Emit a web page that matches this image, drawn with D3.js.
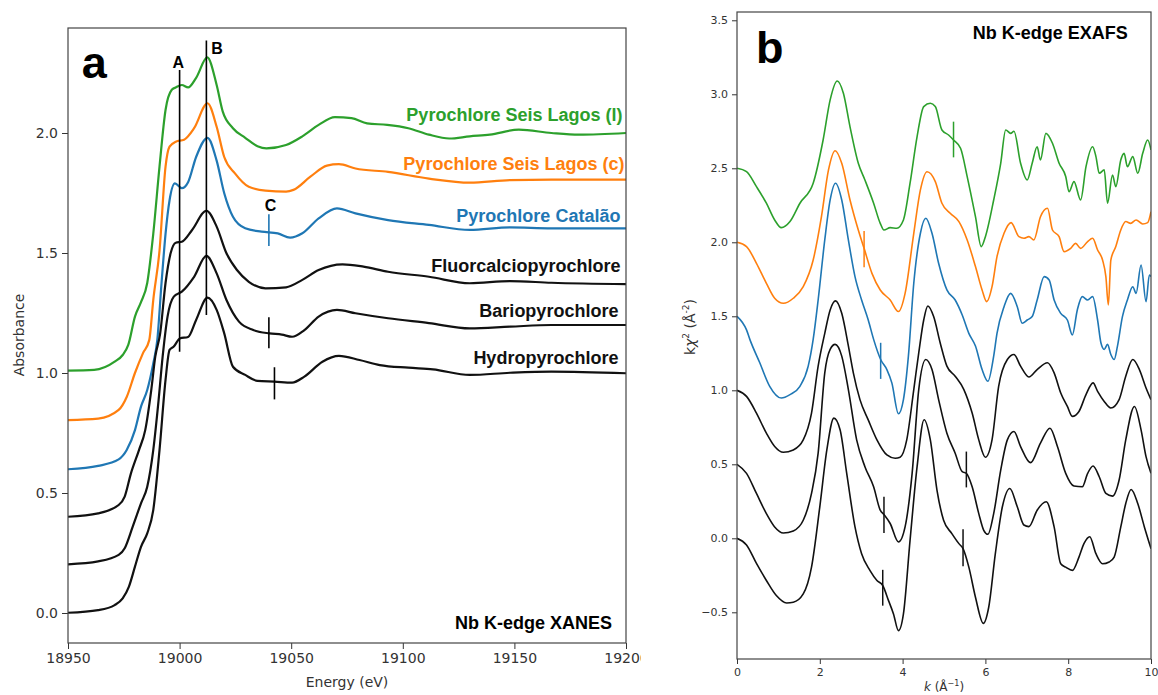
<!DOCTYPE html>
<html>
<head>
<meta charset="utf-8">
<script src="https://cdn.jsdelivr.net/npm/d3@7"></script>
<style>
  body { margin: 0; background: #fff; }
  svg { display: block; }
  .tick text { fill: #333; font-family: "DejaVu Sans", sans-serif; }
  .tick line { stroke: #333; }
  .lbl { font-family: "Liberation Sans", Arial, sans-serif; font-weight: bold; }
  .axlbl { font-family: "DejaVu Sans", sans-serif; fill: #333; }
</style>
</head>
<body>
<svg id="chart" width="1158" height="695"></svg>
<script>
// ---- XANES (panel a): [energy eV, absorbance] ----
const xanesSeisL = [[18950,1.01],[18961.7,1.013],[18970.9,1.047],[18974.5,1.075],[18977,1.117],[18980,1.235],[18982.7,1.295],[18985.5,1.375],[18988.2,1.58],[18991,1.86],[18993.7,2.096],[18996.5,2.18],[18998.3,2.19],[19001,2.2],[19003.8,2.19],[19007.4,2.23],[19012.4,2.315],[19016.6,2.2],[19019.3,2.09],[19023.9,2.02],[19029.4,1.98],[19034.9,1.945],[19038.9,1.936],[19047.7,1.95],[19055,1.986],[19062.3,2.034],[19069.6,2.066],[19077,2.062],[19084,2.04],[19093,2.034],[19102.5,2.02],[19111.7,1.993],[19120.8,1.977],[19130,1.986],[19139,1.993],[19152,2.014],[19166.6,2.0],[19179,1.993],[19200,2.0]];
const xanesSeisC = [[18950,0.804],[18963.5,0.81],[18972.7,0.846],[18976.3,0.9],[18980,1.0],[18983.6,1.083],[18986.4,1.137],[18988.2,1.304],[18991,1.51],[18993.7,1.86],[18995.5,1.943],[18998.3,1.964],[19002,1.972],[19006.5,2.02],[19012.5,2.124],[19016.6,2.026],[19020,1.9],[19024.8,1.832],[19031,1.776],[19038.5,1.76],[19047.7,1.756],[19051,1.763],[19058.6,1.818],[19066,1.864],[19071.4,1.87],[19078.8,1.852],[19093.4,1.838],[19111.7,1.81],[19130,1.793],[19148,1.804],[19166.6,1.806],[19200,1.806]];
const xanesCatalao = [[18950,0.599],[18963.5,0.613],[18972.7,0.64],[18976.3,0.679],[18980,0.762],[18982.7,0.86],[18985.5,0.929],[18988.2,1.04],[18990,1.137],[18991.9,1.374],[18993.7,1.58],[18995.5,1.72],[18997.9,1.79],[19001,1.77],[19003.8,1.795],[19007.4,1.9],[19012.5,1.98],[19016.6,1.885],[19020,1.749],[19023.9,1.651],[19029.4,1.603],[19036.7,1.589],[19044,1.582],[19049.5,1.564],[19055,1.582],[19062.3,1.644],[19070.5,1.686],[19078.8,1.665],[19093.4,1.637],[19111.7,1.617],[19130,1.596],[19148,1.607],[19166.6,1.603],[19200,1.603]];
const xanesFluor = [[18950,0.401],[18963.5,0.415],[18972.7,0.45],[18975.4,0.485],[18978.2,0.582],[18981.8,0.679],[18984.6,0.762],[18987.3,0.929],[18989.1,1.068],[18991.3,1.165],[18993.7,1.375],[18996,1.5],[18998.3,1.543],[19001,1.547],[19005.6,1.596],[19012,1.676],[19016.6,1.61],[19021,1.499],[19025.7,1.429],[19031,1.38],[19038.5,1.353],[19047.7,1.357],[19055,1.388],[19062.3,1.429],[19073,1.453],[19082.4,1.443],[19093.4,1.422],[19111.7,1.401],[19130,1.374],[19148,1.383],[19166.6,1.376],[19200,1.37]];
const xanesBario = [[18950,0.203],[18963.5,0.215],[18972.7,0.242],[18975.4,0.27],[18979,0.36],[18982.7,0.457],[18985.5,0.526],[18988.2,0.679],[18990.6,0.888],[18992.4,1.068],[18994.6,1.235],[18997.4,1.318],[19001,1.339],[19006.5,1.401],[19012,1.488],[19016.6,1.415],[19021,1.304],[19026.6,1.214],[19033,1.179],[19040.3,1.165],[19045.8,1.16],[19050.4,1.151],[19055.9,1.179],[19062.3,1.235],[19070.5,1.263],[19078.8,1.249],[19093.4,1.228],[19111.7,1.208],[19130,1.186],[19148,1.193],[19166.6,1.2],[19200,1.2]];
const xanesHydro = [[18950,0.001],[18963.5,0.012],[18970.9,0.033],[18974.5,0.061],[18977.3,0.11],[18980,0.193],[18982.7,0.276],[18985.5,0.332],[18988.2,0.429],[18991,0.679],[18993.7,0.971],[18995.5,1.096],[18997.4,1.11],[19000.1,1.144],[19003.8,1.15],[19007.4,1.221],[19012.5,1.314],[19016.6,1.263],[19020,1.165],[19023.9,1.026],[19029.4,0.992],[19034.9,0.967],[19042.5,0.964],[19050.4,0.96],[19055.9,0.985],[19064,1.047],[19071.4,1.071],[19080.6,1.054],[19089.7,1.033],[19102.5,1.022],[19113.5,1.015],[19130,0.992],[19148,1.001],[19166.6,1.006],[19200,0.999]];

const xanesNames = ['Pyrochlore Seis Lagos (l)', 'Pyrochlore Seis Lagos (c)', 'Pyrochlore Catalão',
                    'Fluorcalciopyrochlore', 'Bariopyrochlore', 'Hydropyrochlore'];
const xanesLabelY = [2.05, 1.846, 1.63, 1.422, 1.235, 1.0375];
const xanesXTicks = [18950, 19000, 19050, 19100, 19150, 19200];
const xanesYTicks = [0, 0.5, 1.0, 1.5, 2.0];

// vertical feature markers: [energy, y0, y1]
const xanesFeatureLines = [[19000, 1.089, 2.262], [19012, 1.242, 2.385]];
const xanesCMark = [19040, 1.529, 1.661];
const xanesBlackMarks = [[19040, 1.103, 1.232], [19042.5, 0.89, 1.024]];

// ---- EXAFS (panel b): [k, k chi^2] ----
const exafsSeisL = [[0,2.5],[0.23,2.477],[0.47,2.376],[0.71,2.264],[0.91,2.151],[1.07,2.099],[1.28,2.14],[1.52,2.264],[1.84,2.399],[2.08,2.691],[2.25,2.962],[2.42,3.09],[2.57,3.007],[2.73,2.78],[2.93,2.534],[3.09,2.421],[3.3,2.264],[3.46,2.128],[3.55,2.083],[3.7,2.099],[3.86,2.095],[4.02,2.151],[4.18,2.399],[4.35,2.714],[4.51,2.917],[4.67,2.939],[4.79,2.917],[4.95,2.759],[5.11,2.725],[5.23,2.691],[5.4,2.635],[5.56,2.444],[5.76,2.173],[5.9,1.971],[6.0,2.038],[6.2,2.286],[6.37,2.534],[6.49,2.759],[6.61,2.736],[6.69,2.75],[6.85,2.534],[7.01,2.421],[7.13,2.534],[7.25,2.646],[7.33,2.556],[7.46,2.736],[7.62,2.669],[7.78,2.534],[7.94,2.444],[8.02,2.342],[8.14,2.41],[8.3,2.286],[8.43,2.511],[8.59,2.646],[8.67,2.579],[8.75,2.466],[8.87,2.489],[8.95,2.264],[9.07,2.455],[9.15,2.376],[9.27,2.556],[9.35,2.601],[9.43,2.511],[9.56,2.579],[9.68,2.466],[9.8,2.601],[9.92,2.691],[10,2.624]];
const exafsSeisC = [[0,2.0],[0.23,1.971],[0.47,1.858],[0.71,1.723],[0.91,1.622],[1.12,1.588],[1.36,1.622],[1.6,1.7],[1.84,1.88],[2.04,2.173],[2.21,2.489],[2.37,2.619],[2.53,2.534],[2.73,2.286],[2.93,2.083],[3.07,1.959],[3.26,1.79],[3.46,1.678],[3.7,1.61],[3.9,1.532],[4.06,1.655],[4.27,2.061],[4.43,2.354],[4.59,2.477],[4.79,2.41],[4.95,2.264],[5.15,2.196],[5.36,2.14],[5.56,2.016],[5.76,1.836],[5.92,1.678],[6.03,1.599],[6.16,1.7],[6.28,1.903],[6.45,2.061],[6.62,2.133],[6.81,2.038],[6.93,2.027],[7.05,2.038],[7.17,2.016],[7.33,2.173],[7.5,2.23],[7.62,2.083],[7.78,2.038],[7.9,1.937],[8.06,1.959],[8.18,1.993],[8.3,1.959],[8.47,2.005],[8.59,2.027],[8.71,1.948],[8.83,1.88],[8.91,1.768],[8.97,1.577],[9.03,1.88],[9.15,1.971],[9.27,2.083],[9.39,2.14],[9.51,2.128],[9.64,2.151],[9.8,2.124],[9.92,2.133],[10,2.207]];
const exafsCatalao = [[0,1.5],[0.23,1.408],[0.31,1.344],[0.55,1.186],[0.79,1.027],[1.07,0.948],[1.28,0.971],[1.52,1.027],[1.72,1.163],[1.84,1.344],[1.96,1.61],[2.12,2.016],[2.25,2.286],[2.38,2.399],[2.53,2.286],[2.69,2.016],[2.85,1.768],[3.01,1.61],[3.17,1.475],[3.3,1.344],[3.47,1.208],[3.62,1.14],[3.74,1.05],[3.9,0.842],[4.02,0.937],[4.14,1.231],[4.27,1.723],[4.43,2.061],[4.56,2.162],[4.71,2.061],[4.87,1.858],[5.07,1.678],[5.27,1.61],[5.44,1.509],[5.6,1.385],[5.76,1.299],[5.92,1.14],[6.06,1.061],[6.2,1.231],[6.28,1.385],[6.45,1.565],[6.61,1.655],[6.77,1.565],[6.89,1.453],[7.01,1.475],[7.13,1.498],[7.25,1.61],[7.42,1.768],[7.54,1.745],[7.66,1.61],[7.82,1.52],[7.98,1.475],[8.1,1.374],[8.22,1.543],[8.34,1.633],[8.47,1.61],[8.59,1.633],[8.71,1.475],[8.79,1.321],[8.87,1.276],[8.95,1.31],[9.03,1.242],[9.11,1.208],[9.19,1.299],[9.31,1.498],[9.43,1.61],[9.56,1.7],[9.64,1.655],[9.76,1.847],[9.88,1.599],[9.96,1.779],[10,1.768]];
const exafsFluor = [[0,1.0],[0.23,0.959],[0.47,0.846],[0.71,0.71],[0.91,0.62],[1.12,0.581],[1.36,0.597],[1.6,0.665],[1.8,0.846],[1.96,1.163],[2.12,1.385],[2.25,1.543],[2.38,1.604],[2.53,1.52],[2.69,1.3],[2.81,1.118],[2.97,0.937],[3.17,0.8],[3.38,0.665],[3.62,0.563],[3.82,0.541],[3.94,0.548],[4.1,0.665],[4.27,1.005],[4.39,1.253],[4.51,1.475],[4.61,1.57],[4.75,1.498],[4.91,1.318],[5.07,1.163],[5.27,1.095],[5.48,1.005],[5.68,0.846],[5.84,0.665],[6.0,0.548],[6.16,0.665],[6.32,1.027],[6.53,1.208],[6.69,1.242],[6.85,1.163],[7.05,1.09],[7.25,1.14],[7.5,1.186],[7.66,1.118],[7.82,0.982],[7.98,0.891],[8.1,0.824],[8.26,0.857],[8.43,0.971],[8.6,1.05],[8.71,0.993],[8.87,0.925],[9.03,0.88],[9.23,0.937],[9.39,1.095],[9.56,1.208],[9.72,1.14],[9.88,1.016],[10,0.937]];
const exafsBario = [[0,0.5],[0.23,0.439],[0.47,0.303],[0.71,0.167],[0.91,0.077],[1.12,0.036],[1.36,0.05],[1.6,0.122],[1.8,0.303],[1.96,0.575],[2.12,1.118],[2.25,1.276],[2.37,1.31],[2.53,1.231],[2.69,1.005],[2.89,0.665],[3.09,0.484],[3.3,0.348],[3.46,0.19],[3.55,0.161],[3.7,0.1],[3.9,-0.025],[4.06,0.077],[4.23,0.439],[4.39,1.005],[4.56,1.208],[4.71,1.14],[4.87,0.937],[5.07,0.71],[5.27,0.575],[5.44,0.45],[5.54,0.439],[5.68,0.348],[5.84,0.167],[5.96,0.054],[6.06,0.027],[6.2,0.167],[6.37,0.461],[6.53,0.665],[6.69,0.722],[6.85,0.62],[7.09,0.511],[7.33,0.643],[7.56,0.744],[7.74,0.62],[7.94,0.439],[8.14,0.353],[8.34,0.348],[8.47,0.439],[8.6,0.489],[8.75,0.416],[8.91,0.303],[9.07,0.285],[9.23,0.394],[9.39,0.665],[9.6,0.891],[9.76,0.733],[9.88,0.552],[10,0.439]];
const exafsHydro = [[0,0],[0.23,-0.045],[0.47,-0.17],[0.71,-0.285],[0.95,-0.387],[1.2,-0.437],[1.36,-0.432],[1.6,-0.376],[1.8,-0.195],[2.0,0.213],[2.17,0.597],[2.34,0.812],[2.49,0.733],[2.65,0.439],[2.85,0.077],[3.01,-0.104],[3.21,-0.217],[3.38,-0.285],[3.52,-0.319],[3.66,-0.421],[3.78,-0.511],[3.9,-0.624],[4.02,-0.511],[4.18,-0.014],[4.35,0.484],[4.52,0.801],[4.67,0.665],[4.83,0.326],[4.99,0.122],[5.19,0.032],[5.36,-0.036],[5.46,-0.07],[5.6,-0.195],[5.76,-0.398],[5.95,-0.575],[6.08,-0.466],[6.24,-0.104],[6.41,0.213],[6.59,0.337],[6.77,0.213],[6.93,0.09],[7.05,0.079],[7.25,0.19],[7.47,0.247],[7.66,0.077],[7.82,-0.172],[7.94,-0.195],[8.1,-0.217],[8.26,-0.127],[8.38,-0.036],[8.52,0.011],[8.67,-0.104],[8.83,-0.172],[8.99,-0.16],[9.11,-0.127],[9.27,0.077],[9.39,0.235],[9.52,0.33],[9.68,0.235],[9.84,0.077],[10,-0.07]];

const exafsXTicks = [0, 2, 4, 6, 8, 10];
const exafsYTicks = [-0.5, 0, 0.5, 1.0, 1.5, 2.0, 2.5, 3.0, 3.5];
// markers: [k, y0, y1, series index]
const exafsMarks = [[5.23, 2.574, 2.815, 0], [3.07, 1.831, 2.077, 1], [3.47, 1.077, 1.321, 2],
                    [3.55, 0.036, 0.28, 4], [5.54, 0.344, 0.586, 4],
                    [3.52, -0.455, -0.213, 5], [5.46, -0.188, 0.061, 5]];

const colors = ['#2ca02c', '#ff7f0e', '#1f77b4', '#111', '#111', '#111'];

const svg = d3.select('#chart');

// clip for cropped left figure
svg.append('defs').append('clipPath').attr('id', 'leftCrop')
    .append('rect').attr('x', 0).attr('y', 0).attr('width', 641).attr('height', 695);
svg.select('defs').append('clipPath').attr('id', 'plotA')
    .append('rect').attr('x', 68).attr('y', 28).attr('width', 558).attr('height', 615);
svg.select('defs').append('clipPath').attr('id', 'plotB')
    .append('rect').attr('x', 737).attr('y', 12).attr('width', 414).attr('height', 647);

// ================= Panel a =================
const xA = d3.scaleLinear().domain([18950, 19200]).range([68, 626]);
const yA = d3.scaleLinear().domain([-0.125, 2.4375]).range([643, 28]);
const gA = svg.append('g').attr('clip-path', 'url(#leftCrop)');

const lineA = d3.line().x(d => xA(d[0])).y(d => yA(d[1])).curve(d3.curveMonotoneX);
const xanesData = [xanesSeisL, xanesSeisC, xanesCatalao, xanesFluor, xanesBario, xanesHydro];

gA.append('g').attr('clip-path', 'url(#plotA)')
    .selectAll('path').data(xanesData).join('path')
    .attr('d', lineA)
    .attr('fill', 'none')
    .attr('stroke', (d, i) => colors[i])
    .attr('stroke-width', 2.2)
    .attr('stroke-linejoin', 'round');

// feature lines A, B
gA.append('g').selectAll('line').data(xanesFeatureLines).join('line')
    .attr('x1', d => xA(d[0])).attr('x2', d => xA(d[0]))
    .attr('y1', d => yA(d[1])).attr('y2', d => yA(d[2]))
    .attr('stroke', '#000').attr('stroke-width', 1.6);
gA.append('line')
    .attr('x1', xA(xanesCMark[0])).attr('x2', xA(xanesCMark[0]))
    .attr('y1', yA(xanesCMark[1])).attr('y2', yA(xanesCMark[2]))
    .attr('stroke', colors[2]).attr('stroke-width', 1.6);
gA.append('g').selectAll('line').data(xanesBlackMarks).join('line')
    .attr('x1', d => xA(d[0])).attr('x2', d => xA(d[0]))
    .attr('y1', d => yA(d[1])).attr('y2', d => yA(d[2]))
    .attr('stroke', '#000').attr('stroke-width', 1.6);

gA.append('text').attr('class', 'lbl').attr('x', xA(18999.4)).attr('y', yA(2.27))
    .attr('text-anchor', 'middle').attr('font-size', 16).text('A');
gA.append('text').attr('class', 'lbl').attr('x', xA(19014.2)).attr('y', yA(2.33))
    .attr('font-size', 16).text('B');
gA.append('text').attr('class', 'lbl').attr('x', xA(19040.7)).attr('y', yA(1.676))
    .attr('text-anchor', 'middle').attr('font-size', 16).text('C');

// series labels
const labelEnds = [19198.4, 19199.3, 19197.5, 19197.5, 19196.6, 19196.6];
gA.append('g').selectAll('text').data(xanesNames).join('text')
    .attr('class', 'lbl')
    .attr('x', (d, i) => xA(labelEnds[i]))
    .attr('y', (d, i) => yA(xanesLabelY[i]))
    .attr('text-anchor', 'end')
    .attr('font-size', 18)
    .attr('fill', (d, i) => colors[i])
    .text(d => d);

gA.append('text').attr('class', 'lbl').attr('x', xA(19193.7)).attr('y', yA(-0.067))
    .attr('text-anchor', 'end').attr('font-size', 18).text('Nb K-edge XANES');
gA.append('text').attr('class', 'lbl').attr('x', xA(18956.2)).attr('y', yA(2.229))
    .attr('font-size', 45).text('a');

// axes
gA.append('g').attr('transform', 'translate(0,643)')
    .call(d3.axisBottom(xA).tickValues(xanesXTicks).tickFormat(d3.format('d')).tickSize(6).tickPadding(4))
    .call(g => g.select('.domain').remove())
    .selectAll('text').attr('font-size', 14);
gA.append('g').attr('transform', 'translate(68,0)')
    .call(d3.axisLeft(yA).tickValues(xanesYTicks).tickFormat(d3.format('.1f')).tickSize(6).tickPadding(4))
    .call(g => g.select('.domain').remove())
    .selectAll('text').attr('font-size', 14);
gA.append('rect').attr('x', 68).attr('y', 28).attr('width', 558).attr('height', 615)
    .attr('fill', 'none').attr('stroke', '#444').attr('stroke-width', 1.2);

gA.append('text').attr('class', 'axlbl').attr('x', 347).attr('y', 687)
    .attr('text-anchor', 'middle').attr('font-size', 14).text('Energy (eV)');
gA.append('text').attr('class', 'axlbl').attr('transform', 'translate(24,335) rotate(-90)')
    .attr('text-anchor', 'middle').attr('font-size', 14).text('Absorbance');

// ================= Panel b =================
const xB = d3.scaleLinear().domain([0, 10]).range([737, 1151]);
const yB = d3.scaleLinear().domain([-0.8155, 3.556]).range([659, 12]);
const gB = svg.append('g');

const lineB = d3.line().x(d => xB(d[0])).y(d => yB(d[1])).curve(d3.curveMonotoneX);
const exafsData = [exafsSeisL, exafsSeisC, exafsCatalao, exafsFluor, exafsBario, exafsHydro];

gB.append('g').attr('clip-path', 'url(#plotB)')
    .selectAll('path').data(exafsData).join('path')
    .attr('d', lineB)
    .attr('fill', 'none')
    .attr('stroke', (d, i) => colors[i])
    .attr('stroke-width', 1.6)
    .attr('stroke-linejoin', 'round');

gB.append('g').selectAll('line').data(exafsMarks).join('line')
    .attr('x1', d => xB(d[0])).attr('x2', d => xB(d[0]))
    .attr('y1', d => yB(d[1])).attr('y2', d => yB(d[2]))
    .attr('stroke', d => colors[d[3]]).attr('stroke-width', 1.5);

gB.append('text').attr('class', 'lbl').attr('x', xB(9.44)).attr('y', yB(3.374))
    .attr('text-anchor', 'end').attr('font-size', 18).text('Nb K-edge EXAFS');
gB.append('text').attr('class', 'lbl').attr('x', xB(0.46)).attr('y', yB(3.21))
    .attr('font-size', 45).text('b');

gB.append('g').attr('transform', 'translate(0,659)')
    .call(d3.axisBottom(xB).tickValues(exafsXTicks).tickFormat(d3.format('d')).tickSize(5).tickPadding(4))
    .call(g => g.select('.domain').remove())
    .selectAll('text').attr('font-size', 11);
gB.append('g').attr('transform', 'translate(737,0)')
    .call(d3.axisLeft(yB).tickValues(exafsYTicks).tickFormat(d => d3.format('.1f')(d).replace('-', '\u2212')).tickSize(5).tickPadding(4))
    .call(g => g.select('.domain').remove())
    .selectAll('text').attr('font-size', 11);
gB.append('rect').attr('x', 737).attr('y', 12).attr('width', 414).attr('height', 647)
    .attr('fill', 'none').attr('stroke', '#444').attr('stroke-width', 1.2);

// k chi^2 (Å^-2)
const yLab = gB.append('text').attr('class', 'axlbl').attr('transform', 'translate(695,327) rotate(-90)')
    .attr('text-anchor', 'middle').attr('font-size', 14);
yLab.append('tspan').text('k');
yLab.append('tspan').attr('font-style', 'italic').text('\u03c7');
yLab.append('tspan').attr('font-size', 9).attr('dy', -6).text('2');
yLab.append('tspan').attr('dy', 6).text(' (\u00c5');
yLab.append('tspan').attr('font-size', 9).attr('dy', -6).text('-2');
yLab.append('tspan').attr('dy', 6).text(')');

const xLab = gB.append('text').attr('class', 'axlbl').attr('x', 944).attr('y', 691)
    .attr('text-anchor', 'middle').attr('font-size', 12);
xLab.append('tspan').attr('font-style', 'italic').text('k');
xLab.append('tspan').text(' (\u00c5');
xLab.append('tspan').attr('font-size', 8).attr('dy', -5).text('\u22121');
xLab.append('tspan').attr('dy', 5).text(')');
</script>
</body>
</html>
